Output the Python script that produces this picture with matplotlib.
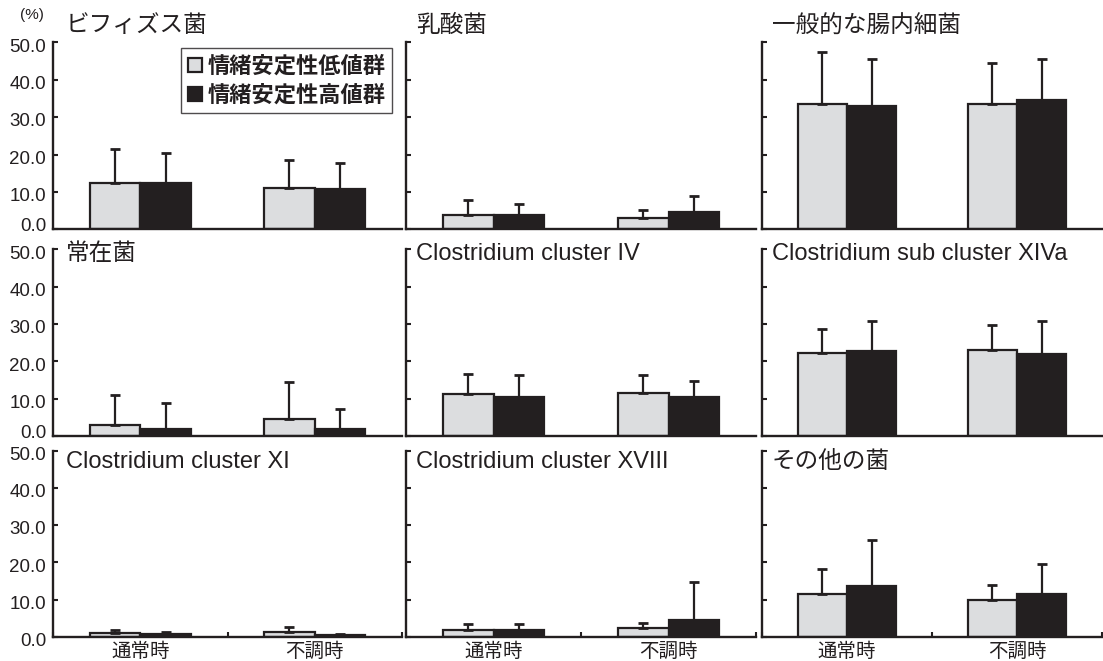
import matplotlib
matplotlib.use("Agg")
import matplotlib.pyplot as plt
from matplotlib.lines import Line2D
from matplotlib.font_manager import FontProperties
from matplotlib.transforms import ScaledTranslation
import numpy as np

plt.rcParams['font.family'] = ['Liberation Sans', 'Noto Sans CJK JP', 'DejaVu Sans']

INK = '#231f20'
LIGHT = '#dcdddf'

# Occasions (x categories) and tick values
conditions = ['通常時', '不調時']
y_ticks = [0, 10, 20, 30, 40, 50]

# Panels, row by row
panel_titles = [
    'ビフィズス菌', '乳酸菌', '一般的な腸内細菌',
    '常在菌', 'Clostridium cluster IV', 'Clostridium sub cluster XIVa',
    'Clostridium cluster XI', 'Clostridium cluster XVIII', 'その他の菌',
]

# Mean occupancy (%) for the low and high emotional-stability groups
low_mean = [
    [12.3, 11.0], [3.7, 2.9], [33.6, 33.6],
    [2.9, 4.6], [11.2, 11.5], [22.3, 23.0],
    [0.9, 1.2], [1.8, 2.3], [11.6, 9.9],
]
high_mean = [
    [12.3, 10.8], [3.8, 4.6], [33.0, 34.7],
    [1.9, 1.9], [10.5, 10.5], [22.7, 22.0],
    [0.7, 0.4], [1.9, 4.6], [13.5, 11.6],
]
# Standard deviations (upper error bars)
low_sd = [
    [9.1, 7.4], [4.1, 2.3], [13.7, 10.9],
    [8.0, 9.9], [5.5, 4.8], [6.3, 6.7],
    [0.9, 1.4], [1.6, 1.5], [6.7, 3.9],
]
high_sd = [
    [8.0, 6.9], [2.9, 4.3], [12.5, 10.8],
    [7.0, 5.2], [5.8, 4.2], [8.2, 8.9],
    [0.6, 0.2], [1.5, 10.2], [12.6, 8.0],
]

legend_labels = ['情緒安定性低値群', '情緒安定性高値群']

W, H = 1103, 661
fig = plt.figure(figsize=(W / 100, H / 100), dpi=100)

# axes boxes in pixels: (left, right) per column, (top, bottom) per row
col_px = [(53, 402), (406, 756), (762, 1102)]
row_px = [(42.3, 229.3), (249.3, 436.0), (450.7, 636.7)]
title_dy = [16, -5, -11]      # title centre offset from the axes top, pixels
title_dx = [13, 10, 10]

centers = np.array([0.5, 1.5])
bw = 0.29

for idx in range(9):
    r, c = divmod(idx, 3)
    (l, rr), (t, b) = col_px[c], row_px[r]
    ax = fig.add_axes([l / W, 1 - b / H, (rr - l) / W, (b - t) / H])

    ax.bar(centers - bw / 2, low_mean[idx], bw, color=LIGHT, edgecolor=INK,
           linewidth=1.6, zorder=2)
    ax.bar(centers + bw / 2, high_mean[idx], bw, color=INK, edgecolor=INK,
           linewidth=1.6, zorder=2)
    for xs, m, s in [(centers - bw / 2, low_mean[idx], low_sd[idx]),
                     (centers + bw / 2, high_mean[idx], high_sd[idx])]:
        ax.errorbar(xs, m, yerr=[np.zeros(len(s)), s], fmt='none',
                    ecolor=INK, elinewidth=1.6, capsize=3.6, capthick=2.0,
                    zorder=3)

    ax.set_xlim(0, 2)
    ax.set_ylim(0, 50)
    for side in ('top', 'right'):
        ax.spines[side].set_visible(False)
    for side in ('left', 'bottom'):
        ax.spines[side].set_color(INK)
        ax.spines[side].set_linewidth(1.7)

    ax.set_yticks(y_ticks)
    ax.tick_params(axis='y', direction='in', length=3.6, width=1.5,
                   color=INK, labelcolor=INK, labelsize=13.5, pad=5)
    if c == 0:
        ax.set_yticklabels([f'{v:.1f}' for v in y_ticks])
        shift = ScaledTranslation(0, -0.028, fig.dpi_scale_trans)
        small_shift = ScaledTranslation(0, -0.02, fig.dpi_scale_trans)
        for k, lab in enumerate(ax.get_yticklabels()):
            if k == 0 and r < 2:
                # the zero label sits near the baseline, clear of the panel below
                lab.set_verticalalignment('baseline')
                lab.set_transform(lab.get_transform() + small_shift)
            else:
                lab.set_transform(lab.get_transform() + shift)
    else:
        ax.set_yticklabels([])

    if r == 2:
        ax.set_xticks([0, 1, 2])
        ax.set_xticklabels([])
        ax.tick_params(axis='x', which='major', direction='in', length=3.6,
                       width=1.5, color=INK)
        ax.set_xticks(centers, minor=True)
        ax.set_xticklabels(conditions, minor=True, fontsize=14,
                           color=INK, family=['Noto Sans CJK JP'])
        ax.tick_params(axis='x', which='minor', length=0, pad=3)
    else:
        ax.set_xticks([])

    ax.annotate(panel_titles[idx], xy=(0, 1), xycoords='axes fraction',
                xytext=(title_dx[c], title_dy[r]), textcoords='offset pixels',
                ha='left', va='center', fontsize=17, color=INK)

    if idx == 0:
        handles = [
            Line2D([], [], linestyle='none', marker='s', markersize=10.5,
                   markerfacecolor=LIGHT, markeredgecolor=INK,
                   markeredgewidth=1.6),
            Line2D([], [], linestyle='none', marker='s', markersize=10.5,
                   markerfacecolor=INK, markeredgecolor=INK,
                   markeredgewidth=1.6),
        ]
        leg = ax.legend(handles, legend_labels, loc='upper right',
                        bbox_to_anchor=(0.972, 0.967), frameon=True,
                        fancybox=False, handlelength=0.7, handletextpad=0.2,
                        borderpad=0.3, labelspacing=0.25, borderaxespad=0,
                        prop=FontProperties(family='Noto Sans CJK JP',
                                            weight='bold', size=16))
        leg.get_frame().set_edgecolor(INK)
        leg.get_frame().set_linewidth(1.0)
        for txt in leg.get_texts():
            txt.set_color(INK)

fig.text(32 / W, 1 - 15 / H, '(%)', ha='center', va='center', fontsize=11,
         color=INK)

fig.savefig('out.png', dpi=100)
